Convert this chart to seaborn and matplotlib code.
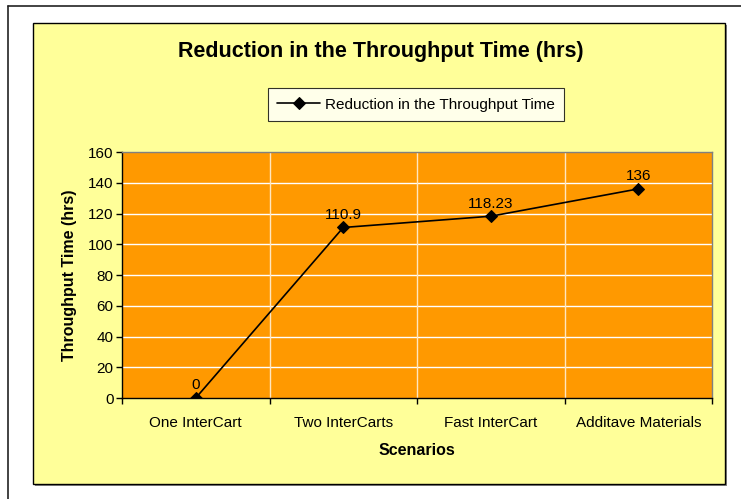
import matplotlib
matplotlib.use("Agg")
import matplotlib.pyplot as plt
import seaborn as sns
import pandas as pd
import numpy as np
from matplotlib.patches import Rectangle
from matplotlib.lines import Line2D

scenarios = ["One InterCart", "Two InterCarts", "Fast InterCart", "Additave Materials"]
reduction = [0, 110.9, 118.23, 136]
value_labels = ["0", "110.9", "118.23", "136"]
y_ticks = [0, 20, 40, 60, 80, 100, 120, 140, 160]
series_name = "Reduction in the Throughput Time"

sns.set_theme(style="white")
plt.rcParams['font.family'] = ['Liberation Sans', 'DejaVu Sans']
plt.rcParams['text.color'] = 'black'
plt.rcParams['axes.labelcolor'] = 'black'
plt.rcParams['xtick.color'] = 'black'
plt.rcParams['ytick.color'] = 'black'

W, H = 741, 499
fig = plt.figure(figsize=(W / 100, H / 100), dpi=100)
fig.patch.set_facecolor("white")

# outer frame (top and left edges only)
fig.add_artist(Line2D([8 / W, 1], [1 - 6 / H, 1 - 6 / H], color="#222222", lw=1.2, transform=fig.transFigure))
fig.add_artist(Line2D([8 / W, 8 / W], [0, 1 - 6 / H], color="#222222", lw=1.2, transform=fig.transFigure))

# shadow + yellow chart panel
fig.add_artist(Rectangle((35 / W, 1 - 486 / H), (725 - 33) / W, (484 - 23) / H,
                         transform=fig.transFigure, facecolor="#888888", edgecolor="none", zorder=0))
fig.add_artist(Rectangle((33 / W, 1 - 484 / H), (725 - 33) / W, (484 - 23) / H,
                         transform=fig.transFigure, facecolor="#FFFF99", edgecolor="black", lw=1.0, zorder=0))

ax = fig.add_axes([122 / W, 1 - 398 / H, (712 - 122) / W, (398 - 152) / H])
ax.set_facecolor("#FF9900")

df = pd.DataFrame({"Scenario": scenarios, "Reduction": reduction, "pos": np.arange(len(scenarios))})
sns.lineplot(data=df, x="pos", y="Reduction", ax=ax, color="black", lw=1.2,
             marker="D", markersize=6, markeredgecolor="black", label=series_name, zorder=5)

ax.set_xlim(-0.5, len(scenarios) - 0.5)
ax.set_ylim(0, 160)
ax.set_yticks(y_ticks)
ax.set_yticklabels([str(v) for v in y_ticks], fontsize=11)

# boundaries ticks and category labels
ax.set_xticks(np.arange(-0.5, len(scenarios), 1.0))
ax.set_xticklabels([])
ax.set_xticks(np.arange(len(scenarios)), minor=True)
ax.set_xticklabels(scenarios, minor=True, fontsize=11)
ax.tick_params(axis="x", which="major", length=4, width=1, color="black", direction="out", bottom=True)
ax.tick_params(axis="x", which="minor", length=0, pad=13)
ax.tick_params(axis="y", length=4, width=1, color="black", direction="out", left=True, pad=2)

# gridlines
for v in y_ticks[1:-1]:
    ax.axhline(v, color="white", lw=1.0, zorder=1)
for b in np.arange(0.5, len(scenarios) - 1, 1.0):
    ax.axvline(b, color="#FFE6C0", lw=1.0, zorder=1)

for s in ["top", "right"]:
    ax.spines[s].set_color("#808080")
    ax.spines[s].set_linewidth(1.0)
for s in ["left", "bottom"]:
    ax.spines[s].set_color("black")
    ax.spines[s].set_linewidth(1.0)

for i, (v, t) in enumerate(zip(reduction, value_labels)):
    ax.annotate(t, (i, v), xytext=(0, 4), textcoords="offset points", ha="center", va="bottom",
                fontsize=11, color="black", zorder=6)

ax.set_xlabel("Scenarios", fontsize=11.5, fontweight="bold", labelpad=9)
ax.set_ylabel("Throughput Time (hrs)", fontsize=11.5, fontweight="bold", labelpad=8)

fig.text(381 / W, 1 - 52 / H, "Reduction in the Throughput Time (hrs)", ha="center", va="center",
         fontsize=15.5, fontweight="bold", color="black")

leg = ax.legend(loc="center", bbox_to_anchor=(416 / W, 1 - 104.5 / H), bbox_transform=fig.transFigure,
                frameon=True, fancybox=False, fontsize=11, handlelength=2.8, handletextpad=0.3,
                borderpad=0.6, borderaxespad=0)
leg.get_frame().set_edgecolor("black")
leg.get_frame().set_facecolor("white")
leg.get_frame().set_linewidth(0.8)

fig.savefig("out.png", dpi=100)
